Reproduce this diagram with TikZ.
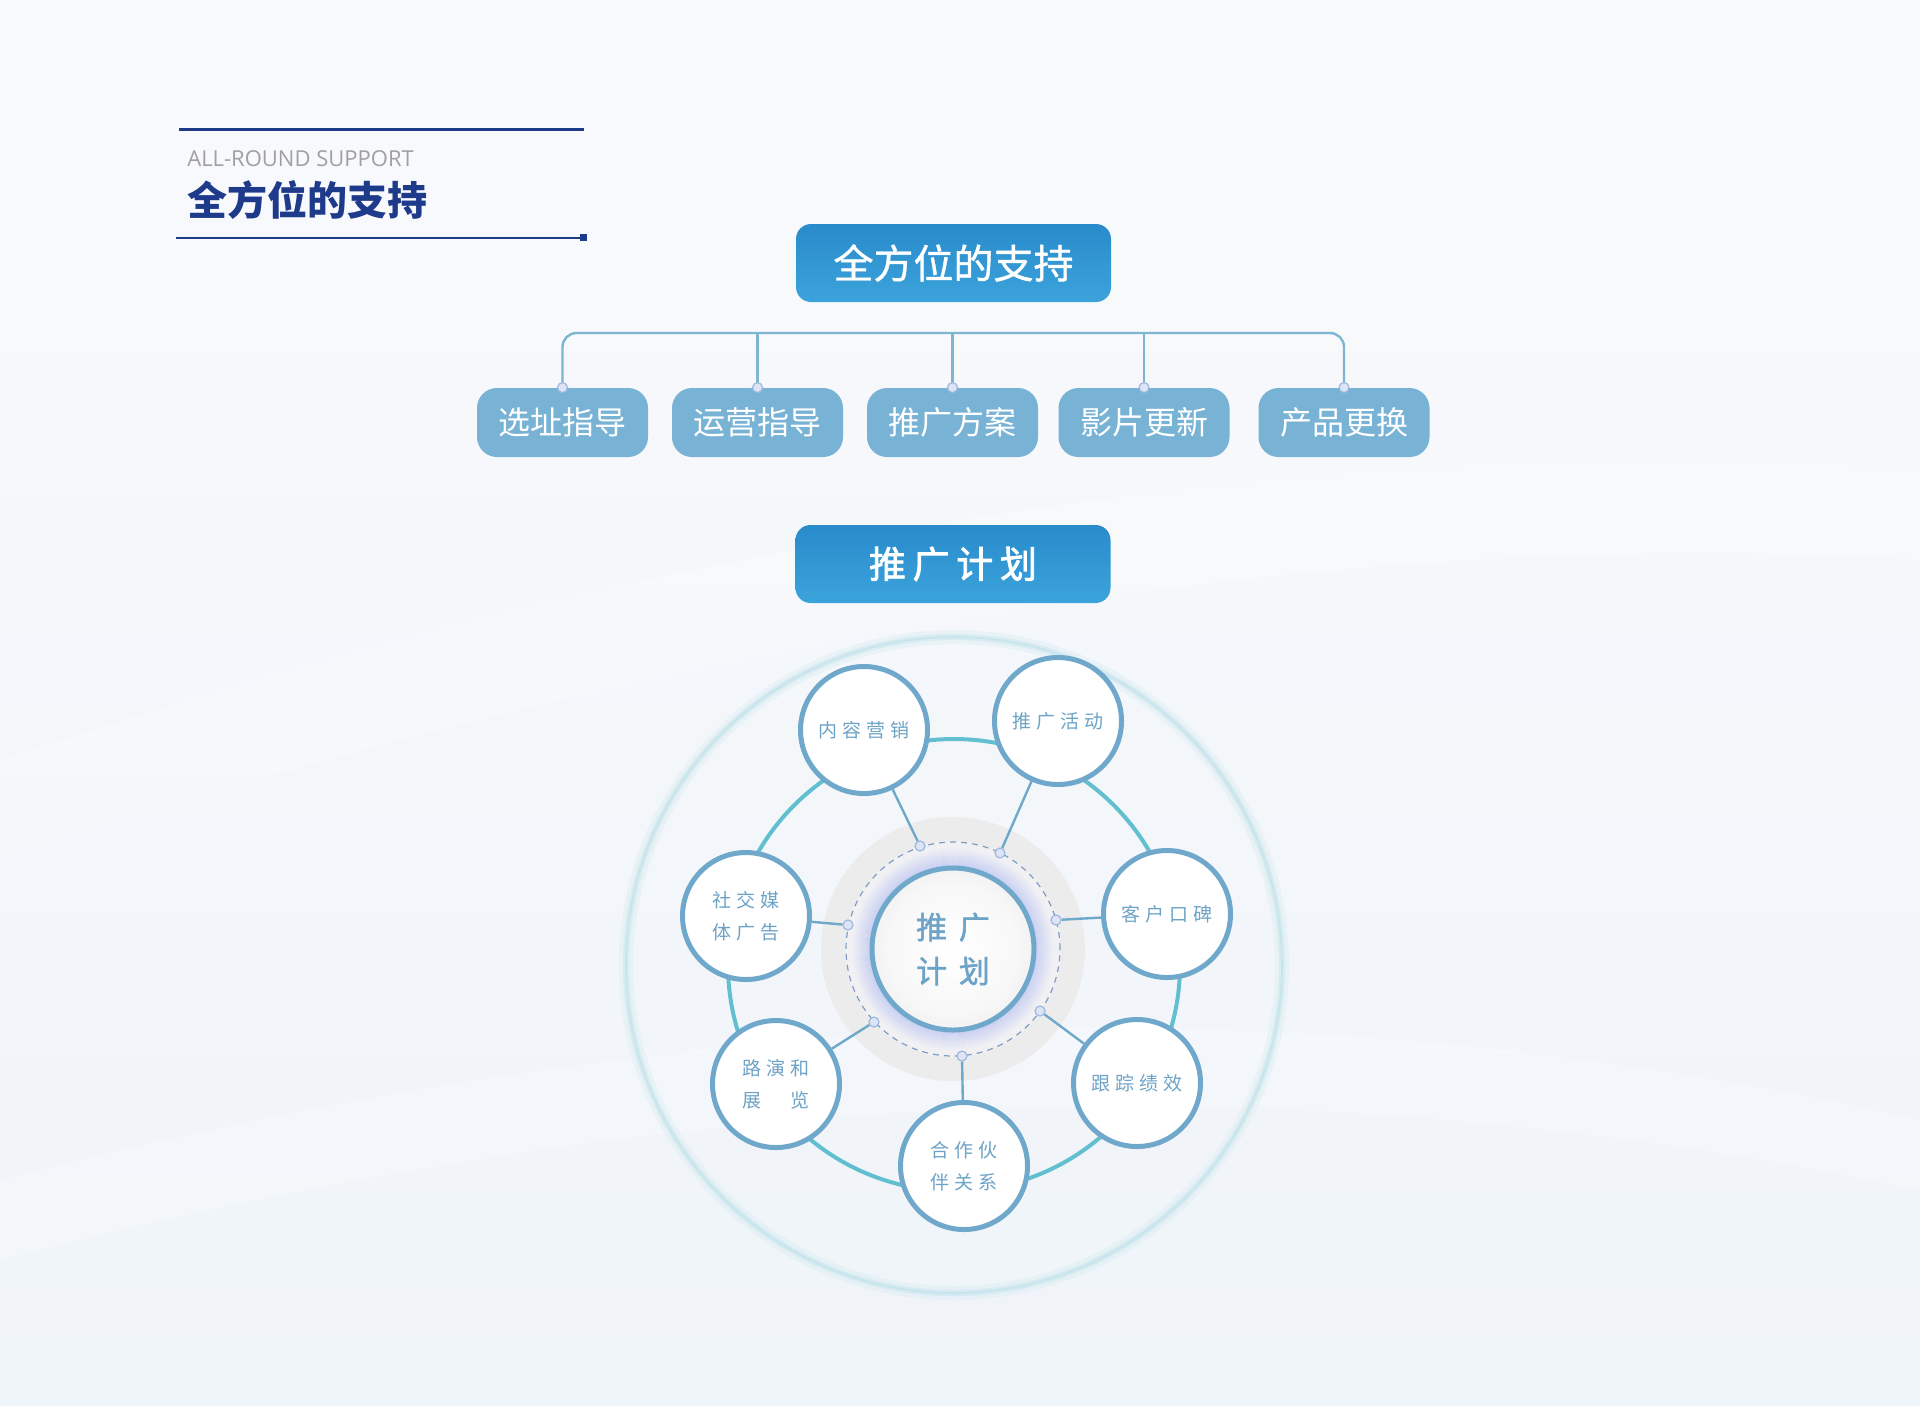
\documentclass[tikz,border=0pt]{standalone}
\usepackage{fontspec}
\setmainfont{Noto Sans CJK SC}
\newfontfamily\latinf{Open Sans}
\newfontfamily\cjkmed{Noto Sans CJK SC}[FakeBold=1]
\newfontfamily\cjkspA{Noto Sans CJK SC}[LetterSpace=25]
\newfontfamily\cjkspB{Noto Sans CJK SC}[LetterSpace=18, FakeBold=2]
\newfontfamily\cjkspC{Noto Sans CJK SC}[LetterSpace=38, FakeBold=1.5]
\definecolor{navy}{HTML}{1E3A8A}
\definecolor{graytext}{HTML}{A0A0A0}
\definecolor{boxtop}{HTML}{2A8BCB}
\definecolor{boxbot}{HTML}{3BA3DB}
\definecolor{smallbox}{HTML}{78B2D4}
\definecolor{conncol}{HTML}{7EB5D3}
\definecolor{dotfill}{HTML}{DCE4F6}
\definecolor{dotdraw}{HTML}{9DB8DE}
\definecolor{satdraw}{HTML}{6FA8CA}
\definecolor{sattext}{HTML}{6DA3C7}
\definecolor{tealring}{HTML}{62BFD0}
\definecolor{outerring}{HTML}{BFE2EA}
\definecolor{dashcol}{HTML}{7F9DC4}
\definecolor{bgtop}{HTML}{F9FAFC}
\definecolor{bgbot}{HTML}{EFF4F9}
\definecolor{glowA}{HTML}{C6CDF2}
\definecolor{glowD}{HTML}{F1F1F4}
\definecolor{haloA}{HTML}{EAEAEB}
\definecolor{haloB}{HTML}{EDEDEE}
\definecolor{haloC}{HTML}{F0F1F2}
\definecolor{haloD}{HTML}{F3F6F9}
\pgfdeclareradialshading{ballshade}{\pgfpoint{0bp}{0bp}}{color(0bp)=(white); color(20bp)=(white!97!black); color(40bp)=(white!89!black); color(50bp)=(white!84!black)}
\pgfdeclareradialshading{haloshade}{\pgfpoint{0bp}{0bp}}{color(0bp)=(haloA); color(40bp)=(haloB); color(46bp)=(haloC); color(50bp)=(haloD)}
\newlength\lyw
\begin{document}
\settowidth\lyw{\cjkspA\fontsize{9.5}{16}\selectfont 路演和}
\begin{tikzpicture}[x=0.5pt,y=-0.5pt,
  topbox/.style={rounded corners=7.5pt, minimum width=157.5pt, minimum height=39pt, inner sep=0pt,
    top color=boxtop, bottom color=boxbot, text=white, font=\cjkmed\fontsize{20}{24}\selectfont},
  smbox/.style={rounded corners=10pt, minimum width=85.5pt, minimum height=34.5pt, inner sep=0pt,
    fill=smallbox, text=white, font=\fontsize{16}{19}\selectfont},
  conn/.style={draw=conncol, line width=1.2pt},
  dot/.style={circle, fill=dotfill, draw=dotdraw, line width=0.6pt, minimum size=5pt, inner sep=0pt},
  sat/.style={circle, draw=satdraw, line width=2.5pt, fill=white, minimum size=63.5pt, inner sep=0pt,
    align=center, text=sattext, font=\cjkspA\fontsize{9.5}{16}\selectfont},
  spoke/.style={draw=satdraw, line width=1.2pt},
  ball/.style={circle, draw=satdraw, line width=2.5pt, minimum size=81pt, inner sep=0pt, shading=ballshade,
    align=center, text=sattext, font=\cjkspC\fontsize{15.5}{22}\selectfont}
]
\useasboundingbox (0,0) rectangle (1920,1405);
\shade[top color=bgtop, bottom color=bgbot] (0,0) rectangle (1920,1405);
% faint background swooshes
\fill[white, opacity=0.2] (0,760) .. controls (600,560) and (1300,420) .. (1920,470) -- (1920,560) .. controls (1300,520) and (600,660) .. (0,860) -- cycle;
\fill[white, opacity=0.2] (0,1180) .. controls (700,1000) and (1300,980) .. (1920,1120) -- (1920,1190) .. controls (1300,1060) and (700,1080) .. (0,1260) -- cycle;

% header
\coordinate (hl1) at (179,129);
\coordinate (hl2) at (584,129);
\draw[navy, line width=1.5pt] (hl1) -- (hl2);
\node[anchor=base west, inner sep=0pt, text=graytext, font=\latinf\fontsize{11}{13}\selectfont] (sub) at (187,166) {ALL-ROUND SUPPORT};
\node[anchor=base west, inner sep=0pt, text=navy, font=\bfseries\fontsize{20}{24}\selectfont] (title) at (187,215) {全方位的支持};
\coordinate (bl1) at (176,238);
\coordinate (bl2) at (580,238);
\draw[navy, line width=0.75pt] (bl1) -- (bl2);
\node[fill=navy, minimum size=3.5pt, inner sep=0pt] (sq) at (583.5,237.5) {};

% tree
\node[topbox] (top) at (953.5,263) {全方位的支持};
\node[smbox] (b1) at (562.5,422.5) {选址指导};
\node[smbox] (b2) at (757.5,422.5) {运营指导};
\node[smbox] (b3) at (952.5,422.5) {推广方案};
\node[smbox] (b4) at (1144,422.5) {影片更新};
\node[smbox] (b5) at (1344,422.5) {产品更换};
\coordinate (hline) at (953,333);
\draw[conn, rounded corners=7pt] (b1.north) -- (b1.north |- hline) -- (b5.north |- hline) -- (b5.north);
\draw[conn] (b2.north) -- (b2.north |- hline);
\draw[conn] (b3.north) -- (b3.north |- hline);
\draw[conn] (b4.north) -- (b4.north |- hline);
\foreach \b in {b1,b2,b3,b4,b5} { \node[dot] (\b dot) at (\b.north) {}; }

\node[topbox, font=\cjkspB\fontsize{18.5}{22}\selectfont] (plan) at (953,564) {推广计划};

% circle diagram
\coordinate (oc) at (954,965);
\coordinate (cc) at (953,949);
\draw[outerring, line width=7pt, opacity=0.2] (oc) circle[radius=164pt];
\draw[outerring, line width=3pt, opacity=0.4] (oc) circle[radius=164pt];
\draw[outerring!85!tealring, line width=0.8pt, opacity=0.45] (oc) circle[radius=164pt];
\draw[tealring, line width=2pt] (oc) circle[radius=113pt];

\shade[shading=haloshade] (cc) circle[radius=66pt];
\fill[glowD] (cc) circle[radius=54pt];
\foreach \i in {0,...,20} {
  \pgfmathsetmacro\pp{max(0,100-5*\i)}
  \pgfmathsetmacro\rr{41+0.5*\i}
  \draw[color=glowA!\pp!glowD, line width=0.6pt] (cc) circle[radius=\rr pt];
}
\draw[dashcol, line width=0.6pt, dash pattern=on 3pt off 2.5pt] (cc) circle[radius=53.5pt];
\node[ball] (core) at (cc) {推广\\计划};

\node[sat] (s1) at (864,730) {内容营销};
\node[sat] (s2) at (1058,721) {推广活动};
\node[sat] (s3) at (1167,914) {客户口碑};
\node[sat] (s4) at (1137,1083) {跟踪绩效};
\node[sat] (s5) at (964,1166) {合作伙\\伴关系};
\node[sat] (s6) at (776,1084) {路演和\\\makebox[\lyw][s]{展\hfill 览}};
\node[sat] (s7) at (746,916) {社交媒\\体广告};

\node[dot] (d1) at (920,846) {};
\node[dot] (d2) at (1000,853) {};
\node[dot] (d3) at (1056,920) {};
\node[dot] (d4) at (1040,1011) {};
\node[dot] (d5) at (962,1056) {};
\node[dot] (d6) at (874,1022) {};
\node[dot] (d7) at (848,925) {};
\draw[spoke] (d1) -- (s1);
\draw[spoke] (d2) -- (s2);
\draw[spoke] (d3) -- (s3);
\draw[spoke] (d4) -- (s4);
\draw[spoke] (d5) -- (s5);
\draw[spoke] (d6) -- (s6);
\draw[spoke] (d7) -- (s7);
\end{tikzpicture}
\end{document}
